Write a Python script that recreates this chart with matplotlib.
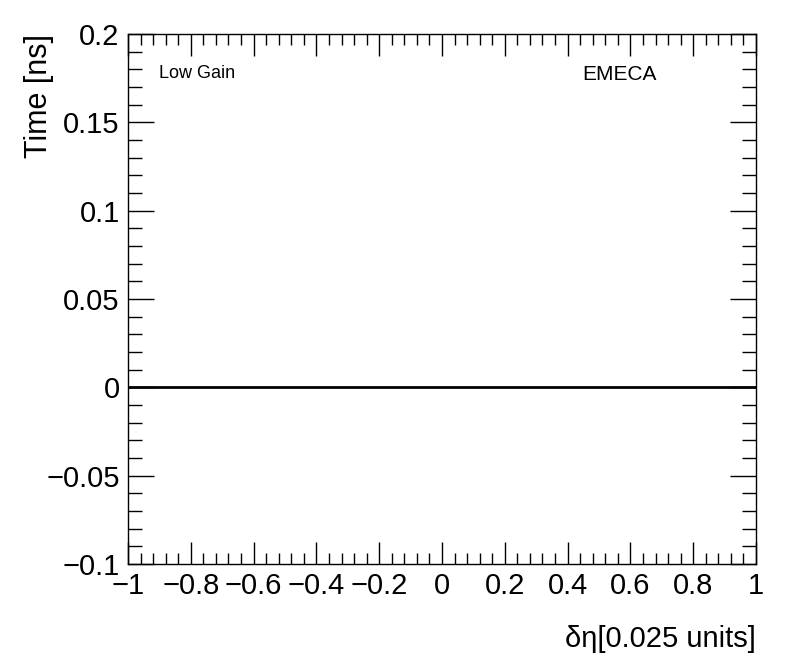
import matplotlib
matplotlib.use("Agg")
import matplotlib.pyplot as plt
from matplotlib.ticker import MultipleLocator, FuncFormatter

plt.rcParams['font.family'] = ['Liberation Sans', 'DejaVu Sans']
plt.rcParams['axes.unicode_minus'] = True

x_vals = [-1.0, 1.0]
y_vals = [0.0, 0.0]
xlim = (-1.0, 1.0)
ylim = (-0.1, 0.2)

fig = plt.figure(figsize=(7.96, 6.72), dpi=100)
ax = fig.add_axes([128/796, 1 - 564/672, (756-128)/796, (564-34)/672])
ax.plot(x_vals, y_vals, color='black', lw=2)
ax.set_xlim(*xlim)
ax.set_ylim(*ylim)

ax.xaxis.set_major_locator(MultipleLocator(0.2))
ax.xaxis.set_minor_locator(MultipleLocator(0.04))
ax.yaxis.set_major_locator(MultipleLocator(0.05))
ax.yaxis.set_minor_locator(MultipleLocator(0.01))

def fmt(v, pos):
    if abs(v) < 1e-9:
        return '0'
    s = ('%.2f' % v).rstrip('0').rstrip('.')
    return s.replace('-', '\u2212')
ax.xaxis.set_major_formatter(FuncFormatter(fmt))
ax.yaxis.set_major_formatter(FuncFormatter(fmt))

ax.tick_params(which='both', direction='in', top=True, right=True, labelsize=21, width=1)
ax.tick_params(axis='x', which='major', length=16, pad=6)
ax.tick_params(axis='x', which='minor', length=8)
ax.tick_params(axis='y', which='major', length=19, pad=6)
ax.tick_params(axis='y', which='minor', length=10)
for s in ax.spines.values():
    s.set_linewidth(1)

ax.set_xlabel('\u03b4\u03b7[0.025 units]', fontsize=21, loc='right')
ax.set_ylabel('Time [ns]', fontsize=22, loc='top')
ax.yaxis.set_label_coords(-0.118, 1.0)
ax.xaxis.set_label_coords(1.0, -0.115)

fig.text(159/796, 1 - 74/672, 'Low Gain', fontsize=13, va='center', ha='left')
fig.text(582/796, 1 - 74/672, 'EMECA', fontsize=15, va='center', ha='left')

fig.savefig('out.png', dpi=100)
